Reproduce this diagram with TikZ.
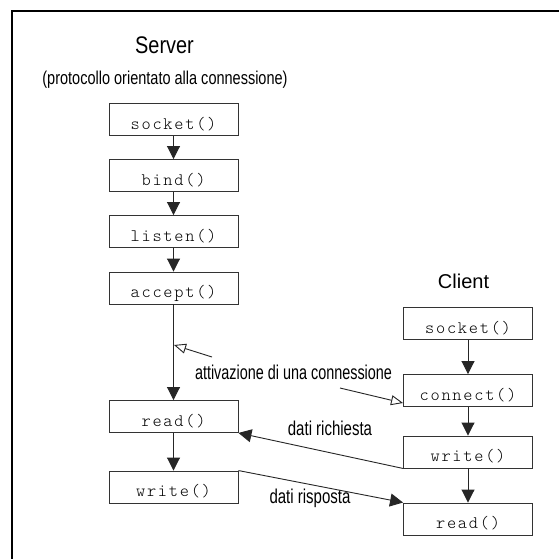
\documentclass[tikz,border=0pt]{standalone}
\usepackage{fontspec}
\usepackage{graphicx}
\usetikzlibrary{arrows.meta}
\setmainfont{Liberation Sans}
\newfontfamily\boxfont{lmmonolt10-regular}[Extension=.otf,LetterSpace=10]
\begin{document}
\begin{tikzpicture}[x=1pt,y=-1pt,
  box/.style={draw=black!80, line width=0.9pt, minimum width=129pt, minimum height=32pt,
    inner sep=0pt, text height=19.5pt, text depth=0pt, font=\fontsize{17.5}{18}\selectfont\boxfont},
  flow/.style={draw=black!85, line width=0.9pt, -{Triangle[width=13pt,length=13pt]}},
  openarr/.style={draw=black!85, line width=0.9pt, -{Triangle[open,width=10pt,length=12pt]}},
  lab/.style={anchor=base, inner sep=0pt}]
\useasboundingbox (0,0) rectangle (559,559);
\fill[white] (0,0) rectangle (559,559);
\draw[line width=2pt] (12,560) -- (12,11) -- (560,11);

% titles
\node[lab] (server) at (164.5,54) {\fontsize{24}{28}\selectfont\scalebox{0.83}[1]{Server}};
\node[lab] (sub) at (165,85) {\fontsize{18.6}{22}\selectfont\scalebox{0.78}[1]{(protocollo orientato alla connessione)}};
\node[lab] (client) at (463.5,288) {\fontsize{20}{24}\selectfont Client};

% server boxes
\node[box] (ssocket) at (173.5,119.5) {socket()};
\node[box] (sbind)   at (173.5,175.5) {bind()};
\node[box] (slisten) at (173.5,231.5) {listen()};
\node[box] (saccept) at (173.5,288)   {accept()};
\node[box] (sread)   at (173.5,416.5) {read()};
\node[box] (swrite)  at (173.5,487)   {write()};

% client boxes
\node[box] (csocket)  at (468,323.5) {socket()};
\node[box] (cconnect) at (468,390.5) {connect()};
\node[box] (cwrite)   at (468,452)   {write()};
\node[box] (cread)    at (468,519)   {read()};

% labels
\node[lab] (att) at (293.5,379) {\fontsize{20}{24}\selectfont\scalebox{0.72}[1]{attivazione di una connessione}};
\node[lab] (ric) at (330,435) {\fontsize{20}{24}\selectfont\scalebox{0.75}[1]{dati richiesta}};
\node[lab] (ris) at (310,503) {\fontsize{20}{24}\selectfont\scalebox{0.75}[1]{dati risposta}};

% server flow
\draw[flow] (ssocket) -- (sbind);
\draw[flow] (sbind) -- (slisten);
\draw[flow] (slisten) -- (saccept);
\draw[flow] (saccept) -- (sread);
\draw[flow] (sread) -- (swrite);

% client flow
\draw[flow] (csocket) -- (cconnect);
\draw[flow] (cconnect) -- (cwrite);
\draw[flow] (cwrite) -- (cread);

% data exchange
\draw[flow] (cwrite.south west) -- (sread.south east);
\draw[flow] (swrite.north east) -- (cread.north west);

% connection activation
\coordinate (o1s) at (212,357);
\coordinate (o1t) at (174,345);
\coordinate (o2s) at (340,388);
\coordinate (o2t) at (403,403);
\draw[openarr] (o1s) -- (o1t);
\draw[openarr] (o2s) -- (o2t);
\end{tikzpicture}
\end{document}
